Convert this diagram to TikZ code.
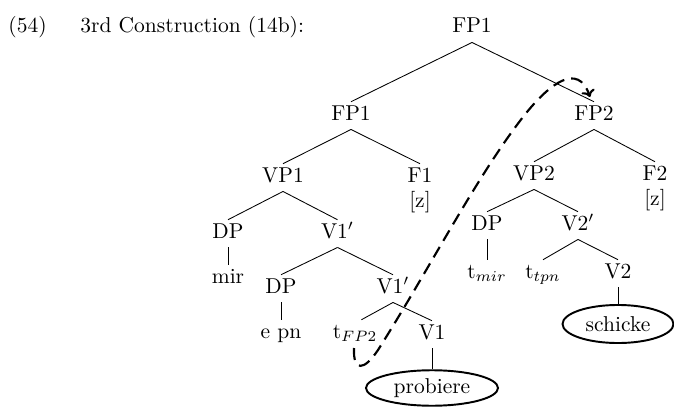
\documentclass[tikz,border=0pt]{standalone}
\usetikzlibrary{shapes.geometric,arrows.meta}
\begin{document}
\begin{tikzpicture}[x=0.4651pt,y=-0.4651pt,
  cat/.style={inner sep=0pt,anchor=base,text height=8.3pt,text depth=4.2pt},
  plain/.style={inner sep=0pt,anchor=base west},
  branch/.style={line width=0.4pt},
  leaf/.style={draw,ellipse,line width=0.9pt,inner sep=0pt,anchor=center},
  move/.style={line width=1pt,dash pattern=on 5.6pt off 3.3pt,-{To[length=3.2pt,width=6.4pt]}}]
\useasboundingbox (0,0) rectangle (674,407);

% example number and heading
\node[plain] (exnum) at (8,33) {(54)};
\node[plain] (title) at (80,33) {3rd Construction (14b):};

% categories
\node[cat] (fp1top) at (472,33) {FP1};
\node[cat] (fp1) at (351,120) {FP1};
\node[cat] (fp2) at (594,120) {FP2};
\node[cat] (vp1) at (283,182) {VP1};
\node[cat] (f1) at (420,182) {F1};
\node[cat] (f1z) at (420,207) {[z]};
\node[cat] (vp2) at (534,180) {VP2};
\node[cat] (f2) at (655,180) {F2};
\node[cat] (f2z) at (655,205) {[z]};
\node[cat] (dpa) at (228,238) {DP};
\node[cat] (v1pa) at (337.5,238) {V1$'$};
\node[cat] (mir) at (228,283) {mir};
\node[cat] (dpb) at (281,293) {DP};
\node[cat] (v1pb) at (393,293) {V1$'$};
\node[cat] (epn) at (281,338) {e pn};
\node[cat] (tfp) at (355,338) {t$_{FP2}$};
\node[cat] (v1) at (432,339) {V1};
\node[cat] (dpc) at (487,230) {DP};
\node[cat] (v2p) at (578,230) {V2$'$};
\node[cat] (tmir) at (487,278) {t$_{mir}$};
\node[cat] (ttpn) at (543,278) {t$_{tpn}$};
\node[cat] (v2) at (618,278) {V2};

% verbs
\node[leaf,minimum width=61.4pt,minimum height=16.5pt] (probiere) at (432,388) {probiere};
\node[leaf,minimum width=51.6pt,minimum height=17.7pt] (schicke) at (618,324) {schicke};

% branches
\draw[branch] (fp1top.south) -- (fp1.north);
\draw[branch] (fp1top.south) -- (fp2.north);
\draw[branch] (fp1.south) -- (vp1.north);
\draw[branch] (fp1.south) -- (f1.north);
\draw[branch] (fp2.south) -- (vp2.north);
\draw[branch] (fp2.south) -- (f2.north);
\draw[branch] (vp1.south) -- (dpa.north);
\draw[branch] (vp1.south) -- (v1pa.north);
\draw[branch] (dpa.south) -- (mir.north);
\draw[branch] (v1pa.south) -- (dpb.north);
\draw[branch] (v1pa.south) -- (v1pb.north);
\draw[branch] (dpb.south) -- (epn.north);
\draw[branch] (v1pb.south) -- ([xshift=3pt]tfp.north);
\draw[branch] (v1pb.south) -- (v1.north);
\draw[branch] (v1.south) -- (probiere.north);
\draw[branch] (vp2.south) -- (dpc.north);
\draw[branch] (vp2.south) -- (v2p.north);
\draw[branch] (dpc.south) -- (tmir.north);
\draw[branch] (v2p.south) -- (ttpn.north);
\draw[branch] (v2p.south) -- (v2.north);
\draw[branch] (v2.south) -- (schicke.north);

% movement of FP2 from its trace
\coordinate (mvstart) at (354,348);
\coordinate (mvend) at (590,97);
\draw[move] (mvstart) .. controls (353,372) and (364,371) .. (378,350)
  .. controls (430,268) and (480,170) .. (527,112)
  .. controls (550,84) and (578,62) .. (mvend);
\end{tikzpicture}
\end{document}
